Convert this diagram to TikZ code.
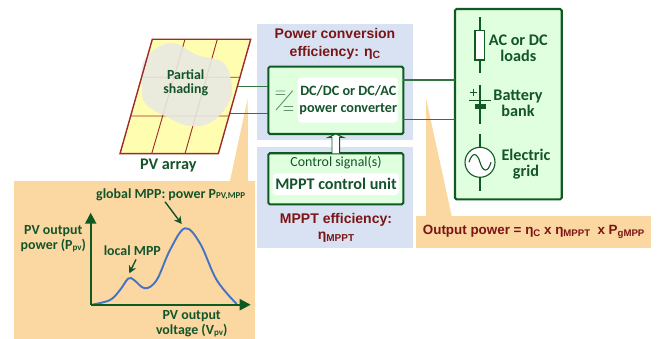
\documentclass[tikz,border=0pt]{standalone}
\usepackage{fontspec}
\setmainfont{Carlito}
\newfontfamily\arialf{Liberation Sans}
\usetikzlibrary{arrows.meta,calc}
\definecolor{dgreen}{HTML}{0F5A22}
\definecolor{tgreen}{HTML}{14542A}
\definecolor{lgreen}{HTML}{DFFFDF}
\definecolor{pblue}{HTML}{D9E2F2}
\definecolor{porange}{HTML}{FBD7A2}
\definecolor{dred}{HTML}{7B1416}
\definecolor{pyellow}{HTML}{FFFDB0}
\definecolor{pshade}{HTML}{E8E8E2}
\definecolor{pcell}{HTML}{9E2A2B}
\definecolor{curveblue}{HTML}{4472C4}
\tikzset{
 gtext/.style={text=tgreen,font=\bfseries\fontsize{14.2}{16.5}\selectfont,inner sep=0pt,align=center},
 gbig/.style={text=tgreen,font=\bfseries\fontsize{16.2}{16}\selectfont,inner sep=0pt,align=center},
 gsmall/.style={text=tgreen,font=\bfseries\fontsize{13.9}{14.3}\selectfont,inner sep=0pt,align=center},
 rtext/.style={text=dred,font=\arialf\bfseries\fontsize{14}{18.3}\selectfont,inner sep=0pt,align=center},
 bluepanel/.style={fill=pblue,draw=none,inner sep=0pt,outer sep=0pt},
 orangepanel/.style={fill=porange,draw=none,inner sep=0pt,outer sep=0pt},
 greenbox/.style={fill=lgreen,draw=dgreen,line width=2.1pt,rounded corners=1.5pt,inner sep=0pt,outer sep=0pt},
 whitebox/.style={fill=white,draw=none,rounded corners=4pt,inner sep=0pt},
 wire/.style={draw=dgreen!85!white,line width=1.2pt},
 sym/.style={draw=dgreen,line width=1.1pt},
 axis/.style={draw=dgreen,line width=2.1pt,-{Triangle[length=11pt,width=11pt]}},
 pointer/.style={draw=tgreen,line width=1.4pt,-{Stealth[length=7.5pt,width=8pt]}},
 cellline/.style={draw=pcell,line width=.9pt},
}
\begin{document}
\begin{tikzpicture}[x=1pt,y=-1pt]
\useasboundingbox (0,0) rectangle (660,339);
% panels
\node[bluepanel,minimum width=155.4pt,minimum height=116pt] (convpanel) at (335,82) {};
\node[bluepanel,minimum width=155.4pt,minimum height=101.6pt] (mpptpanel) at (335,197.5) {};
% orange callouts
\fill[porange] (247.7,98.3) -- (230,181) -- (248,181) -- cycle;
\node[orangepanel,minimum width=241pt,minimum height=158.5pt] (graphpanel) at (134.5,259.75) {};
\fill[porange] (426,98.3) -- (426,216) -- (451.7,216) -- cycle;
\node[orangepanel,minimum width=235pt,minimum height=32.6pt] (outpanel) at (533.5,232) {};
% PV array
\coordinate (pvA) at (152.3,39.3);
\coordinate (pvB) at (250.7,39.3);
\coordinate (pvC) at (218.3,153.7);
\coordinate (pvD) at (120,153.7);
\fill[pyellow] (pvA) -- (pvB) -- (pvC) -- (pvD) -- cycle;
\draw[cellline] (141.7,77.3) -- (239.3,77.3) (131,116) -- (228.3,116)
 (185,39.3) -- (151.7,153.7) (217.3,39.3) -- (185,153.7);
\fill[pshade,opacity=.9] plot[smooth cycle,tension=.65] coordinates {(175,43.5) (197,55) (222,62) (231,80) (230,100) (213,121) (190,126) (163,115) (145,103) (142,87) (143,63) (157,48)};
\draw[pcell,line width=1.4pt] (pvA) -- (pvB) -- (pvC) -- (pvD) -- cycle;
\node[gsmall] (shadelbl) at (185.7,83) {Partial\\shading};
\node[gbig] (pvlbl) at (168.3,165.7) {PV array};
% converter
\node[greenbox,minimum width=135pt,minimum height=67.3pt] (conv) at (335.8,100.35) {};
\node[whitebox,minimum width=100pt,minimum height=45.4pt] (convwhite) at (347.7,100) {};
\node[gtext] (convlbl) at (348.3,100) {DC/DC or DC/AC\\power converter};
\draw[draw=dgreen!45!lgreen!80!black,line width=.9pt] (292.7,90.7) -- (276,110)
 (275.5,91) -- (285,91) (275.5,94.5) -- (285,94.5)
 (283.5,106.5) -- (293,106.5) (283.5,110.5) -- (293,110.5);
% MPPT
\node[greenbox,minimum width=135pt,minimum height=51pt] (mppt) at (335.8,178.8) {};
\node[whitebox,minimum width=126.5pt,minimum height=21.7pt] (mpptwhite) at (335.8,184.2) {};
\node[text=tgreen,font=\fontsize{13.9}{14}\selectfont,inner sep=0pt] (ctrl) at (336,162.3) {Control signal(s)};
\node[gbig] (mpptlbl) at (336,184) {MPPT control unit};
% hollow arrow
\draw[fill=white,draw=dgreen,line width=.9pt] ($(mppt.north)+(-3.8,0)$) -- ($(mppt.north)+(-3.8,-16)$) -- ($(conv.south)+(-7.8,3.5)$) -- (conv.south) -- ($(conv.south)+(7.8,3.5)$) -- ($(mppt.north)+(3.8,-16)$) -- ($(mppt.north)+(3.8,0)$);
% efficiency texts
\node[rtext] (pce) at (335,44) {Power conversion\\efficiency: η\raisebox{-2pt}{\fontsize{10.5}{10}\selectfont C}};
\node[rtext] (me) at (336,220) {MPPT efficiency:};
\node[rtext] (metawt) at (336,237) {η\raisebox{-2pt}{\fontsize{10}{9}\selectfont MPPT}};
% loads box
\node[greenbox,minimum width=106.7pt,minimum height=190.3pt] (loads) at (508.35,104.15) {};
% wires
\coordinate (pvup) at (237.7,86.7);
\coordinate (pvlo) at (230,113.3);
\coordinate (outup) at (403.3,80);
\coordinate (outlo) at (403.3,119.3);
\draw[wire] (pvup) -- (conv.west |- pvup);
\draw[wire] (pvlo) -- (conv.west |- pvlo);
\draw[wire] (outup) -- (loads.west |- outup);
\draw[wire] (outlo) -- (loads.west |- outlo);
% resistor
\draw[sym] (480,17.3) -- (480,73.3);
\draw[sym,fill=white] (475,30.7) rectangle (484.5,60);
\node[gbig] (loadlbl) at (518.3,48) {AC or DC\\loads};
% battery
\draw[sym] (480,85) -- (480,124);
\draw[sym] (469.3,100.7) -- (491,100.7);
\fill[dgreen] (475,104) rectangle (485.7,109);
\draw[draw=dgreen,line width=.6pt] (469.5,92.7) -- (477,92.7) (473.3,89) -- (473.3,96.5);
\node[gbig] (batlbl) at (518,103.7) {Battery\\bank};
% grid
\draw[sym] (480,134.3) -- (480,147) (480,177.5) -- (480,190.7);
\draw[sym,fill=white] (480,162.3) circle[radius=15pt];
\draw[sym] (469,162.3) .. controls (472,152) and (477,152) .. (480,162.3) .. controls (483,172.6) and (488,172.6) .. (491,162.3);
\node[gbig] (gridlbl) at (526,163.7) {Electric\\grid};
% output text
\node[anchor=west,inner sep=0pt,text=dred,font=\arialf\bfseries\fontsize{13.4}{15}\selectfont] (outtxt) at (422.7,232) {Output power = η\raisebox{-1.5pt}{\fontsize{9.6}{9}\selectfont C} x η\raisebox{-1.5pt}{\fontsize{9.6}{9}\selectfont MPPT}\ \ x P\raisebox{-1.5pt}{\fontsize{9.6}{9}\selectfont gMPP}};
% graph
\coordinate (org) at (90.7,304.7);
\coordinate (ytip) at (90.7,212.7);
\coordinate (xtip) at (250.7,304.7);
\draw[curveblue,line width=1.9pt] plot[smooth,tension=.6] coordinates {(91.7,304.7) (110,300) (120,290) (128.3,278.5) (134,280) (145,288.3) (156.7,280) (170,250) (185,228.3) (200,243.3) (216.7,280) (236.7,304)};
\draw[axis] (org) -- (ytip);
\draw[axis] (org) -- (xtip);
\node[gsmall] (ylbl) at (53.3,238.8) {PV output\\power (P\raisebox{-1pt}{\fontsize{9}{8}\selectfont pv})};
\node[gsmall] (xlbl) at (191.7,323.8) {PV output\\voltage (V\raisebox{-1pt}{\fontsize{9}{8}\selectfont pv})};
\node[gsmall,anchor=west] (glob) at (96,194.3) {global MPP: power P\raisebox{-1pt}{\fontsize{9}{8}\selectfont PV,MPP}};
\node[gsmall] (loc) at (132.3,251) {local MPP};
\coordinate (globpk) at (181.7,224);
\coordinate (locpk) at (129.3,273.3);
\draw[pointer] (165,201.7) -- (globpk);
\draw[pointer] (136,259.5) -- (locpk);
\end{tikzpicture}
\end{document}
